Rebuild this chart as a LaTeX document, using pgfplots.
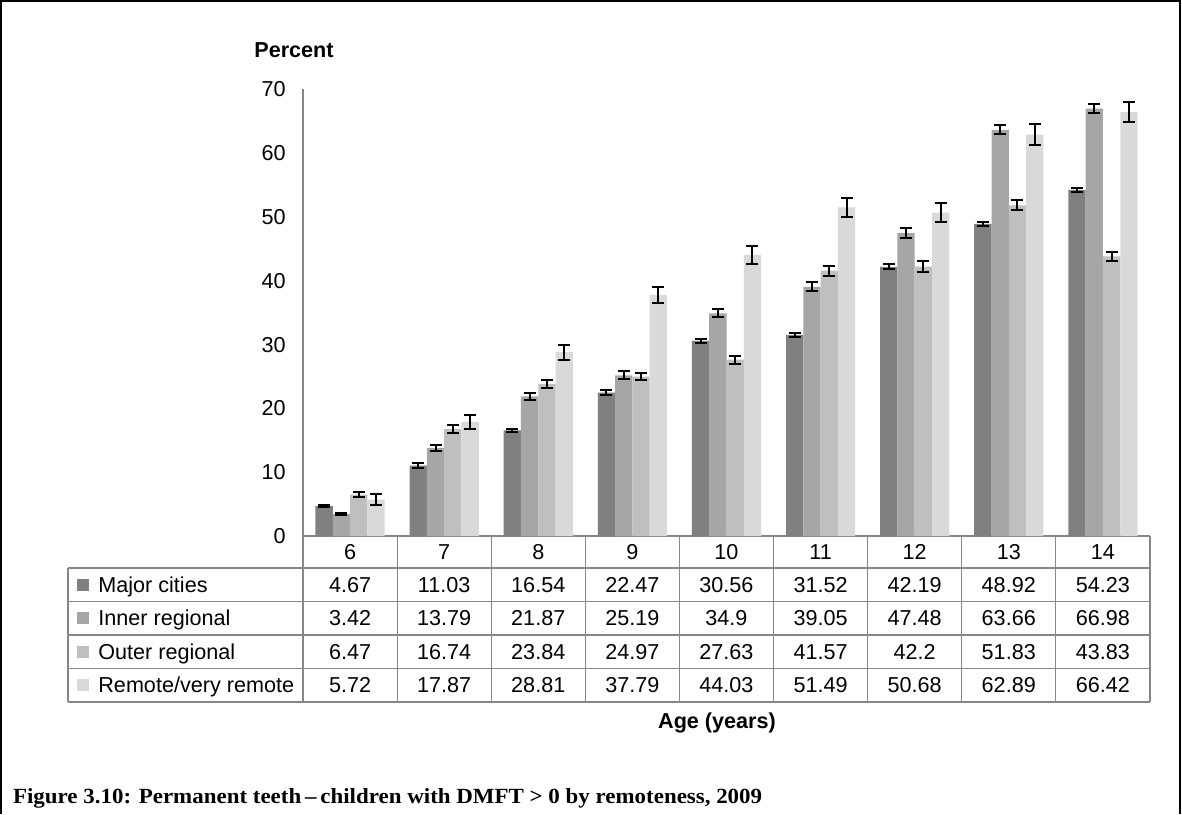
\documentclass[border=0pt]{standalone}
\usepackage{pgfplots}
\pgfplotsset{compat=1.18}
\usepackage{pgfplotstable}
\usepackage{graphicx}
\usepackage{fontspec}
\setmainfont{Liberation Sans}
\newfontfamily\capfont{Liberation Serif}

\definecolor{cMajor}{HTML}{808080}
\definecolor{cInner}{HTML}{A6A6A6}
\definecolor{cOuter}{HTML}{BFBFBF}
\definecolor{cRemote}{HTML}{D9D9D9}
\definecolor{gridgray}{HTML}{868686}

% age, percent by remoteness, and half-width of the error bars
\pgfplotstableread{
age major inner outer remote emaj einn eout erem
6  4.67  3.42  6.47  5.72  0.20 0.20 0.35 0.85
7  11.03 13.79 16.74 17.87 0.40 0.50 0.65 1.10
8  16.54 21.87 23.84 28.81 0.20 0.50 0.60 1.20
9  22.47 25.19 24.97 37.79 0.35 0.60 0.60 1.30
10 30.56 34.9  27.63 44.03 0.35 0.60 0.60 1.40
11 31.52 39.05 41.57 51.49 0.30 0.70 0.75 1.50
12 42.19 47.48 42.2  50.68 0.40 0.75 0.85 1.55
13 48.92 63.66 51.83 62.89 0.35 0.70 0.80 1.65
14 54.23 66.98 43.83 66.42 0.35 0.70 0.75 1.60
}\datatable

\begin{document}
% 1 unit = 1 pixel of the reference, y pointing down
\begin{tikzpicture}[x=0.5pt,y=-0.5pt,font=\fontsize{10.8pt}{13pt}\selectfont]
\useasboundingbox (0,0) rectangle (1182,814);
\draw[line width=1pt] (1,814) -- (1,1) -- (1180,1) -- (1180,814);

\begin{scope}[x=1pt,y=1pt]
\begin{axis}[
    at={(151.5pt,-268pt)}, anchor=south west,
    scale only axis,
    width=423.5pt, height=223.35pt,
    xmin=-0.5, xmax=8.5,
    ymin=0, ymax=70,
    axis lines=left,
    axis line style={draw=gridgray, line width=0.6pt, -},
    xtick=\empty,
    ytick={0,10,...,70},
    major tick length=0pt,
    yticklabel style={anchor=east, inner sep=0pt, xshift=-8.5pt},
    /pgf/number format/assume math mode=true,
    ybar=0pt, bar width=8.65pt,
    clip=false,
    error bars/y dir=both,
    error bars/y explicit,
    error bars/error bar style={line width=1pt, black},
    error bars/error mark options={rotate=90, mark size=3pt, line width=1pt, black},
]
\addplot[fill=cMajor, draw=none] table[x expr=\coordindex, y=major, y error=emaj] {\datatable};
\addplot[fill=cInner, draw=none] table[x expr=\coordindex, y=inner, y error=einn] {\datatable};
\addplot[fill=cOuter, draw=none] table[x expr=\coordindex, y=outer, y error=eout] {\datatable};
\addplot[fill=cRemote, draw=none] table[x expr=\coordindex, y=remote, y error=erem] {\datatable};
\end{axis}
\end{scope}

% data table under the axis
\begin{scope}[draw=gridgray, line width=0.6pt]
\foreach \k in {0,...,9} \draw (303+94.1*\k,536) -- (303+94.1*\k,702);
\foreach \yy in {568,601.5,635,668.5,702} \draw (68,\yy) -- (1150,\yy);
\draw (68,568) -- (68,702);
\end{scope}

\foreach \i in {0,...,8} {
  \pgfplotstablegetelem{\i}{age}\of\datatable
  \node[anchor=base, inner sep=0pt] at (350.05+94.1*\i,559.7) {\pgfplotsretval};
}

\foreach \col/\name/\clr [count=\r from 0] in {major/Major cities/cMajor, inner/Inner regional/cInner, outer/Outer regional/cOuter, remote/Remote\slash very remote/cRemote} {
  \fill[\clr] (77,578.75+33.5*\r) rectangle (89,590.75+33.5*\r);
  \node[anchor=base west, inner sep=0pt] at (98,592.45+33.5*\r) {\name};
  \foreach \i in {0,...,8} {
    \pgfplotstablegetelem{\i}{\col}\of\datatable
    \node[anchor=base, inner sep=0pt] at (350.05+94.1*\i,592.45+33.5*\r) {\pgfplotsretval};
  }
}

\node[font=\fontsize{10.8pt}{13pt}\selectfont\bfseries] at (294,50) {Percent};
\node[font=\fontsize{10.8pt}{13pt}\selectfont\bfseries] at (717,723) {Age (years)};

\node[anchor=base west, inner sep=0pt] at (12.7,803.3)
  {\resizebox{374.5pt}{7.5pt}{\capfont\bfseries Figure 3.10: Permanent teeth\,–\,children with DMFT > 0 by remoteness, 2009}};
\end{tikzpicture}
\end{document}
